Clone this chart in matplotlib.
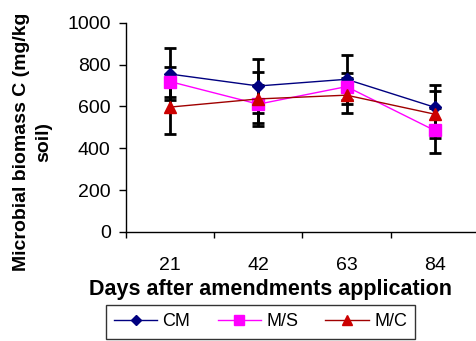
import matplotlib.pyplot as plt
from matplotlib.lines import Line2D
import numpy as np

plt.rcParams['font.family'] = ['Liberation Sans', 'DejaVu Sans']

days = ['21', '42', '63', '84']
cm = [755, 698, 730, 596]
ms = [719, 611, 695, 485]
mc = [597, 636, 654, 563]
cm_err = [124, 128, 117, 107]
ms_err = [72, 90, 65, 109]
mc_err = [128, 128, 83, 112]

fig = plt.figure(figsize=(4.77, 3.41), dpi=100)
ax = fig.add_axes([0.264, 0.320, 0.74, 0.613])

x = np.arange(len(days))
series = [
    ('CM', cm, cm_err, '#000080', '#000080', 'D', 6.5),
    ('M/S', ms, ms_err, '#FF00FF', '#FF00FF', 's', 8.5),
    ('M/C', mc, mc_err, '#A00000', '#CC0000', '^', 8.5),
]
handles = []
for name, vals, err, lc, mcol, mk, msz in series:
    ax.errorbar(x, vals, yerr=err, color=lc, lw=1, marker=mk, ms=msz,
                mfc=mcol, mec=mcol, ecolor='black', elinewidth=2,
                capsize=4.5, capthick=2, zorder=3)
    handles.append(Line2D([], [], color=lc, lw=1, marker=mk, ms=msz - 1,
                          mfc=mcol, mec=mcol, label=name))

ax.set_xlim(-0.5, 3.5)
ax.set_ylim(0, 1000)
ax.set_yticks(range(0, 1001, 200))
ax.set_xticks(x)
ax.set_xticklabels(days)
ax.set_xticks([-0.5, 0.5, 1.5, 2.5, 3.5], minor=True)
ax.tick_params(axis='x', which='major', length=0, pad=18, labelsize=14)
ax.tick_params(axis='x', which='minor', length=4, width=1)
ax.tick_params(axis='y', length=5, width=1, labelsize=14, pad=6)
for s in ['top', 'right']:
    ax.spines[s].set_visible(False)
for s in ['left', 'bottom']:
    ax.spines[s].set_linewidth(1)
    ax.spines[s].set_color('black')

fig.text(0.568, 0.152, 'Days after amendments application', fontsize=15.5,
         fontweight='bold', ha='center', va='center')
fig.text(0.068, 0.585, 'Microbial biomass C (mg/kg\nsoil)', rotation=90,
         ha='center', va='center', fontsize=14, fontweight='bold',
         multialignment='center', linespacing=1.4)

leg = fig.legend(handles=handles, loc='center', bbox_to_anchor=(0.546, 0.056),
                 ncol=3, frameon=True, fancybox=False, edgecolor='black',
                 fontsize=13, handlelength=2.4, columnspacing=1.5,
                 borderpad=0.45, handletextpad=0.3)
leg.get_frame().set_linewidth(1)

fig.savefig('out.png', dpi=100)
